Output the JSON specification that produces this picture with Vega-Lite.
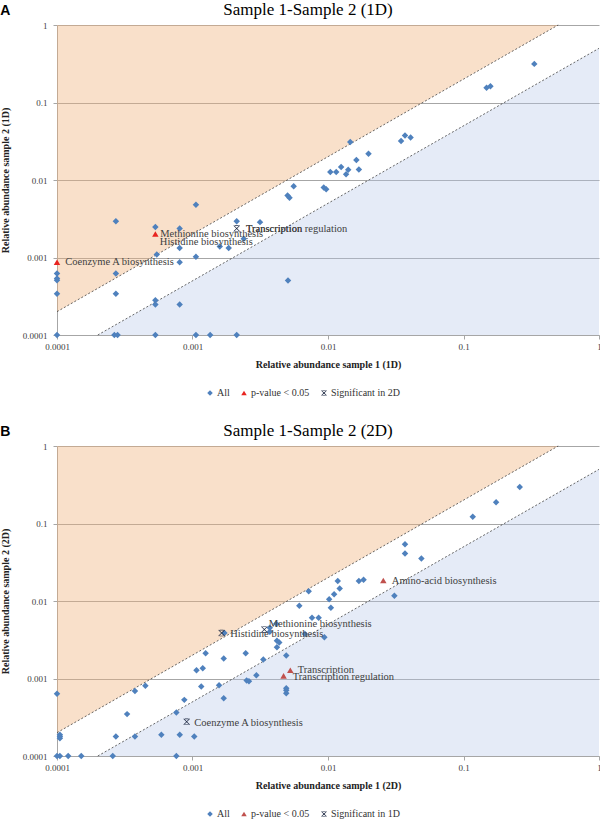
{
  "$schema": "https://vega.github.io/schema/vega-lite/v6.json",
  "padding": {"left": 0, "top": 1, "right": 0, "bottom": 0},
  "spacing": 24,
  "config": {
    "view": {"stroke": null},
    "legend": {"direction": "horizontal", "title": null, "labelFont": "Liberation Serif", "labelFontSize": 10, "labelColor": "#333333", "symbolSize": 30, "labelOffset": 2, "columnPadding": 9, "padding": 0, "symbolStrokeWidth": 0}
  },
  "datasets": {
    "up_region": [{"x": 0.0001, "y": 0.0002, "y2": 1}, {"x": 0.5, "y": 1, "y2": 1}],
    "down_region": [{"x": 0.0002, "y": 0.0001, "y2": 0.0001}, {"x": 1, "y": 0.5, "y2": 0.0001}],
    "fold_lines": [
      {"g": "up", "x": 0.0001, "y": 0.0002}, {"g": "up", "x": 0.5, "y": 1},
      {"g": "down", "x": 0.0002, "y": 0.0001}, {"g": "down", "x": 1, "y": 0.5}
    ],
    "a_pts": [
      {"x": 0.0001, "y": 0.00062, "t": "All"}, {"x": 0.0001, "y": 0.000535, "t": "All"}, {"x": 0.0001, "y": 0.00051, "t": "All"},
      {"x": 0.0001, "y": 0.00034, "t": "All"}, {"x": 0.0001, "y": 0.0001, "t": "All"},
      {"x": 0.000272, "y": 0.00293, "t": "All"}, {"x": 0.000272, "y": 0.00062, "t": "All"}, {"x": 0.000272, "y": 0.00034, "t": "All"},
      {"x": 0.000265, "y": 0.0001, "t": "All"}, {"x": 0.00028, "y": 0.0001, "t": "All"},
      {"x": 0.000532, "y": 0.00248, "t": "All"}, {"x": 0.000545, "y": 0.00109, "t": "All"}, {"x": 0.000532, "y": 0.00028, "t": "All"},
      {"x": 0.000532, "y": 0.000247, "t": "All"}, {"x": 0.000532, "y": 0.0001, "t": "All"},
      {"x": 0.000804, "y": 0.00236, "t": "All"}, {"x": 0.000804, "y": 0.00133, "t": "All"}, {"x": 0.000804, "y": 0.00087, "t": "All"},
      {"x": 0.000804, "y": 0.000247, "t": "All"},
      {"x": 0.00106, "y": 0.0048, "t": "All"}, {"x": 0.00106, "y": 0.00102, "t": "All"}, {"x": 0.00106, "y": 0.0001, "t": "All"},
      {"x": 0.00135, "y": 0.0001, "t": "All"}, {"x": 0.00159, "y": 0.00139, "t": "All"}, {"x": 0.00185, "y": 0.00133, "t": "All"},
      {"x": 0.00212, "y": 0.00293, "t": "All"}, {"x": 0.00212, "y": 0.0001, "t": "All"}, {"x": 0.00239, "y": 0.00175, "t": "All"},
      {"x": 0.00315, "y": 0.00286, "t": "All"}, {"x": 0.00507, "y": 0.000504, "t": "All"},
      {"x": 0.00503, "y": 0.0063, "t": "All"}, {"x": 0.0052, "y": 0.0059, "t": "All"}, {"x": 0.00558, "y": 0.0083, "t": "All"},
      {"x": 0.0093, "y": 0.008, "t": "All"}, {"x": 0.0097, "y": 0.0076, "t": "All"},
      {"x": 0.0104, "y": 0.0127, "t": "All"}, {"x": 0.0115, "y": 0.0127, "t": "All"}, {"x": 0.0125, "y": 0.0147, "t": "All"},
      {"x": 0.0136, "y": 0.0119, "t": "All"}, {"x": 0.0141, "y": 0.0136, "t": "All"}, {"x": 0.0146, "y": 0.0309, "t": "All"},
      {"x": 0.0162, "y": 0.0181, "t": "All"}, {"x": 0.0169, "y": 0.0137, "t": "All"}, {"x": 0.0199, "y": 0.0218, "t": "All"},
      {"x": 0.0346, "y": 0.0318, "t": "All"}, {"x": 0.037, "y": 0.0376, "t": "All"}, {"x": 0.0407, "y": 0.0354, "t": "All"},
      {"x": 0.148, "y": 0.155, "t": "All"}, {"x": 0.158, "y": 0.162, "t": "All"}, {"x": 0.333, "y": 0.315, "t": "All"},
      {"x": 0.0001, "y": 0.00087, "t": "p-value < 0.05"}, {"x": 0.000532, "y": 0.00201, "t": "p-value < 0.05"},
      {"x": 0.00212, "y": 0.00236, "t": "Significant in 2D"}
    ],
    "a_lab": [
      {"x": 0.000115, "y": 0.00087, "label": "Coenzyme A biosynthesis"},
      {"x": 0.000578, "y": 0.00201, "label": "Methionine biosynthesis"},
      {"x": 0.000574, "y": 0.00159, "label": "Histidine biosynthesis"},
      {"x": 0.00248, "y": 0.00234, "label": "Transcription regulation"},
      {"x": 0.00248, "y": 0.00234, "label": "Transcription"}
    ],
    "b_pts": [
      {"x": 0.0001, "y": 0.000634, "t": "All"}, {"x": 0.000105, "y": 0.000188, "t": "All"}, {"x": 0.000105, "y": 0.000179, "t": "All"},
      {"x": 0.000105, "y": 0.00017, "t": "All"}, {"x": 0.0001, "y": 0.0001, "t": "All"}, {"x": 0.000105, "y": 0.0001, "t": "All"},
      {"x": 0.000121, "y": 0.0001, "t": "All"}, {"x": 0.000151, "y": 0.0001, "t": "All"}, {"x": 0.000258, "y": 0.0001, "t": "All"},
      {"x": 0.000272, "y": 0.000179, "t": "All"}, {"x": 0.000329, "y": 0.000347, "t": "All"}, {"x": 0.000376, "y": 0.00069, "t": "All"},
      {"x": 0.000376, "y": 0.000179, "t": "All"}, {"x": 0.000449, "y": 0.000804, "t": "All"}, {"x": 0.000589, "y": 0.000188, "t": "All"},
      {"x": 0.00076, "y": 0.000365, "t": "All"}, {"x": 0.00076, "y": 0.0001, "t": "All"}, {"x": 0.000805, "y": 0.000188, "t": "All"},
      {"x": 0.00087, "y": 0.00053, "t": "All"}, {"x": 0.00103, "y": 0.000179, "t": "All"}, {"x": 0.00107, "y": 0.00128, "t": "All"},
      {"x": 0.00116, "y": 0.00079, "t": "All"}, {"x": 0.00119, "y": 0.00136, "t": "All"}, {"x": 0.00125, "y": 0.00212, "t": "All"},
      {"x": 0.00157, "y": 0.00082, "t": "All"}, {"x": 0.00172, "y": 0.00386, "t": "All"}, {"x": 0.0017, "y": 0.00181, "t": "All"},
      {"x": 0.0017, "y": 0.000557, "t": "All"}, {"x": 0.00247, "y": 0.00212, "t": "All"}, {"x": 0.00251, "y": 0.00094, "t": "All"},
      {"x": 0.00261, "y": 0.00092, "t": "All"}, {"x": 0.00296, "y": 0.0011, "t": "All"}, {"x": 0.00333, "y": 0.00176, "t": "All"},
      {"x": 0.00372, "y": 0.00453, "t": "All"}, {"x": 0.00372, "y": 0.004, "t": "All"}, {"x": 0.00416, "y": 0.0051, "t": "All"},
      {"x": 0.0042, "y": 0.00308, "t": "All"}, {"x": 0.00437, "y": 0.00291, "t": "All"}, {"x": 0.0042, "y": 0.00253, "t": "All"},
      {"x": 0.00492, "y": 0.00198, "t": "All"}, {"x": 0.00492, "y": 0.00075, "t": "All"}, {"x": 0.00492, "y": 0.000706, "t": "All"},
      {"x": 0.00492, "y": 0.000645, "t": "All"}, {"x": 0.00614, "y": 0.0087, "t": "All"}, {"x": 0.00762, "y": 0.0061, "t": "All"},
      {"x": 0.00853, "y": 0.0061, "t": "All"}, {"x": 0.00676, "y": 0.00375, "t": "All"}, {"x": 0.0094, "y": 0.0034, "t": "All"},
      {"x": 0.0102, "y": 0.0105, "t": "All"}, {"x": 0.0105, "y": 0.0082, "t": "All"}, {"x": 0.0072, "y": 0.0134, "t": "All"},
      {"x": 0.0111, "y": 0.0122, "t": "All"}, {"x": 0.0122, "y": 0.0145, "t": "All"}, {"x": 0.0118, "y": 0.0181, "t": "All"},
      {"x": 0.0169, "y": 0.0181, "t": "All"}, {"x": 0.0183, "y": 0.0188, "t": "All"}, {"x": 0.0309, "y": 0.0117, "t": "All"},
      {"x": 0.037, "y": 0.054, "t": "All"}, {"x": 0.037, "y": 0.041, "t": "All"}, {"x": 0.0489, "y": 0.0353, "t": "All"},
      {"x": 0.117, "y": 0.122, "t": "All"}, {"x": 0.174, "y": 0.188, "t": "All"}, {"x": 0.26, "y": 0.296, "t": "All"},
      {"x": 0.0256, "y": 0.0184, "t": "p-value < 0.05"}, {"x": 0.00527, "y": 0.00128, "t": "p-value < 0.05"},
      {"x": 0.0047, "y": 0.00108, "t": "p-value < 0.05"},
      {"x": 0.000906, "y": 0.000276, "t": "Significant in 1D"}, {"x": 0.00164, "y": 0.00386, "t": "Significant in 1D"},
      {"x": 0.00339, "y": 0.0043, "t": "Significant in 1D"}
    ],
    "b_lab": [
      {"x": 0.0296, "y": 0.018, "label": "Amino-acid biosynthesis"},
      {"x": 0.00365, "y": 0.005, "label": "Methionine biosynthesis"},
      {"x": 0.0019, "y": 0.00375, "label": "Histidine biosynthesis"},
      {"x": 0.00598, "y": 0.00127, "label": "Transcription"},
      {"x": 0.00549, "y": 0.00106, "label": "Transcription regulation"},
      {"x": 0.00103, "y": 0.000264, "label": "Coenzyme A biosynthesis"}
    ]
  },
  "vconcat": [
    {
      "title": {"text": "A", "anchor": "start", "frame": "bounds", "font": "Liberation Sans", "fontSize": 14, "fontWeight": "bold", "color": "#000000", "offset": -17},
      "resolve": {"scale": {"color": "independent", "shape": "independent"}, "legend": {"color": "independent", "shape": "independent"}},
      "vconcat": [
        {
          "width": 542,
          "height": 310,
          "title": {"text": "Sample 1-Sample 2 (1D)", "font": "Liberation Serif", "fontSize": 17, "fontWeight": "normal", "color": "#000000", "anchor": "middle", "dx": -20, "offset": 2},
          "encoding": {
            "x": {"field": "x", "type": "quantitative", "scale": {"type": "log", "domain": [0.0001, 1], "nice": false},
              "axis": {"values": [0.0001, 0.001, 0.01, 0.1, 1], "format": "~g", "grid": false, "domainColor": "#A6A6A6", "tickColor": "#A6A6A6", "tickSize": 4, "labelFont": "Liberation Serif", "labelFontSize": 9, "labelColor": "#404040", "labelPadding": 3, "labelFlush": false, "labelOverlap": false, "title": "Relative abundance sample 1 (1D)", "titleFont": "Liberation Serif", "titleFontSize": 10, "titleFontWeight": "bold", "titleColor": "#222222", "titlePadding": 8}},
            "y": {"field": "y", "type": "quantitative", "scale": {"type": "log", "domain": [0.0001, 1], "nice": false},
              "axis": {"values": [0.0001, 0.001, 0.01, 0.1, 1], "format": "~g", "grid": true, "gridColor": "#A6A6A6", "domainColor": "#A6A6A6", "tickColor": "#A6A6A6", "tickSize": 4, "labelFont": "Liberation Serif", "labelFontSize": 9, "labelColor": "#404040", "labelPadding": 6, "labelFlush": false, "labelOverlap": false, "title": "Relative abundance sample 2 (1D)", "titleFont": "Liberation Serif", "titleFontSize": 10, "titleFontWeight": "bold", "titleColor": "#222222", "titlePadding": 12}}
          },
          "layer": [
            {"data": {"name": "up_region"}, "mark": {"type": "area", "orient": "vertical", "color": "#F0B27A", "opacity": 0.4}, "encoding": {"y2": {"field": "y2"}}},
            {"data": {"name": "down_region"}, "mark": {"type": "area", "orient": "vertical", "color": "#B4C7E7", "opacity": 0.35}, "encoding": {"y2": {"field": "y2"}}},
            {"data": {"name": "fold_lines"}, "mark": {"type": "line", "color": "#404040", "strokeWidth": 0.8, "strokeDash": [2, 2]}, "encoding": {"detail": {"field": "g"}}},
            {"data": {"name": "a_pts"}, "mark": {"type": "point", "filled": true, "size": 42, "opacity": 1},
              "encoding": {
                "color": {"field": "t", "type": "nominal", "scale": {"domain": ["All", "p-value < 0.05", "Significant in 2D"], "range": ["#4F81BD", "#E8231F", "#1F2A44"]}, "legend": {"orient": "none", "legendX": 148, "legendY": 363, "direction": "horizontal"}},
                "shape": {"field": "t", "type": "nominal", "scale": {"domain": ["All", "p-value < 0.05", "Significant in 2D"], "range": ["diamond", "triangle-up", "M-0.85,-1L1,0.85L0.85,1L-1,-0.85Z M0.85,-1L1,-0.85L-0.85,1L-1,0.85Z M-0.6,-1L0.6,-1L0.6,-0.8L-0.6,-0.8Z M-0.6,0.8L0.6,0.8L0.6,1L-0.6,1Z"]}, "legend": {"orient": "none", "legendX": 148, "legendY": 363, "direction": "horizontal"}}
              }},
            {"data": {"name": "a_lab"}, "mark": {"type": "text", "align": "left", "baseline": "middle", "font": "Liberation Serif", "fontSize": 10.5, "color": "#404040"}, "encoding": {"text": {"field": "label"}}},
            {"data": {"values": [{"tag": "increased"}]}, "mark": {"type": "text", "align": "left", "baseline": "middle", "font": "Lato", "fontWeight": "bold", "fontSize": 13, "color": "#A0571C", "dx": 6, "dy": 13}, "encoding": {"x": {"datum": 0.0001}, "y": {"datum": 1}, "text": {"field": "tag"}}},
            {"data": {"values": [{"tag": "decreased"}]}, "mark": {"type": "text", "align": "right", "baseline": "middle", "font": "Lato", "fontWeight": "bold", "fontSize": 13, "color": "#1F3A60", "dx": -9, "dy": -11}, "encoding": {"x": {"datum": 1}, "y": {"datum": 0.0001}, "text": {"field": "tag"}}}
          ]
        }
      ]
    },
    {
      "title": {"text": "B", "anchor": "start", "frame": "bounds", "font": "Liberation Sans", "fontSize": 14, "fontWeight": "bold", "color": "#000000", "offset": -17},
      "resolve": {"scale": {"color": "independent", "shape": "independent"}, "legend": {"color": "independent", "shape": "independent"}},
      "vconcat": [
        {
          "width": 542,
          "height": 310,
          "title": {"text": "Sample 1-Sample 2 (2D)", "font": "Liberation Serif", "fontSize": 17, "fontWeight": "normal", "color": "#000000", "anchor": "middle", "dx": -20, "offset": 2},
          "encoding": {
            "x": {"field": "x", "type": "quantitative", "scale": {"type": "log", "domain": [0.0001, 1], "nice": false},
              "axis": {"values": [0.0001, 0.001, 0.01, 0.1, 1], "format": "~g", "grid": false, "domainColor": "#A6A6A6", "tickColor": "#A6A6A6", "tickSize": 4, "labelFont": "Liberation Serif", "labelFontSize": 9, "labelColor": "#404040", "labelPadding": 3, "labelFlush": false, "labelOverlap": false, "title": "Relative abundance sample 1 (2D)", "titleFont": "Liberation Serif", "titleFontSize": 10, "titleFontWeight": "bold", "titleColor": "#222222", "titlePadding": 8}},
            "y": {"field": "y", "type": "quantitative", "scale": {"type": "log", "domain": [0.0001, 1], "nice": false},
              "axis": {"values": [0.0001, 0.001, 0.01, 0.1, 1], "format": "~g", "grid": true, "gridColor": "#A6A6A6", "domainColor": "#A6A6A6", "tickColor": "#A6A6A6", "tickSize": 4, "labelFont": "Liberation Serif", "labelFontSize": 9, "labelColor": "#404040", "labelPadding": 6, "labelFlush": false, "labelOverlap": false, "title": "Relative abundance sample 2 (2D)", "titleFont": "Liberation Serif", "titleFontSize": 10, "titleFontWeight": "bold", "titleColor": "#222222", "titlePadding": 12}}
          },
          "layer": [
            {"data": {"name": "up_region"}, "mark": {"type": "area", "orient": "vertical", "color": "#F0B27A", "opacity": 0.4}, "encoding": {"y2": {"field": "y2"}}},
            {"data": {"name": "down_region"}, "mark": {"type": "area", "orient": "vertical", "color": "#B4C7E7", "opacity": 0.35}, "encoding": {"y2": {"field": "y2"}}},
            {"data": {"name": "fold_lines"}, "mark": {"type": "line", "color": "#404040", "strokeWidth": 0.8, "strokeDash": [2, 2]}, "encoding": {"detail": {"field": "g"}}},
            {"data": {"name": "b_pts"}, "mark": {"type": "point", "filled": true, "size": 42, "opacity": 1},
              "encoding": {
                "color": {"field": "t", "type": "nominal", "scale": {"domain": ["All", "p-value < 0.05", "Significant in 1D"], "range": ["#4F81BD", "#C0504D", "#1F2A44"]}, "legend": {"orient": "none", "legendX": 148, "legendY": 363, "direction": "horizontal"}},
                "shape": {"field": "t", "type": "nominal", "scale": {"domain": ["All", "p-value < 0.05", "Significant in 1D"], "range": ["diamond", "triangle-up", "M-0.85,-1L1,0.85L0.85,1L-1,-0.85Z M0.85,-1L1,-0.85L-0.85,1L-1,0.85Z M-0.6,-1L0.6,-1L0.6,-0.8L-0.6,-0.8Z M-0.6,0.8L0.6,0.8L0.6,1L-0.6,1Z"]}, "legend": {"orient": "none", "legendX": 148, "legendY": 363, "direction": "horizontal"}}
              }},
            {"data": {"name": "b_lab"}, "mark": {"type": "text", "align": "left", "baseline": "middle", "font": "Liberation Serif", "fontSize": 10.5, "color": "#404040"}, "encoding": {"text": {"field": "label"}}},
            {"data": {"values": [{"tag": "increased"}]}, "mark": {"type": "text", "align": "left", "baseline": "middle", "font": "Lato", "fontWeight": "bold", "fontSize": 13, "color": "#A0571C", "dx": 6, "dy": 13}, "encoding": {"x": {"datum": 0.0001}, "y": {"datum": 1}, "text": {"field": "tag"}}},
            {"data": {"values": [{"tag": "decreased"}]}, "mark": {"type": "text", "align": "right", "baseline": "middle", "font": "Lato", "fontWeight": "bold", "fontSize": 13, "color": "#1F3A60", "dx": -9, "dy": -11}, "encoding": {"x": {"datum": 1}, "y": {"datum": 0.0001}, "text": {"field": "tag"}}}
          ]
        }
      ]
    }
  ],
  "resolve": {"scale": {"color": "independent", "shape": "independent"}, "legend": {"color": "independent", "shape": "independent"}}
}
